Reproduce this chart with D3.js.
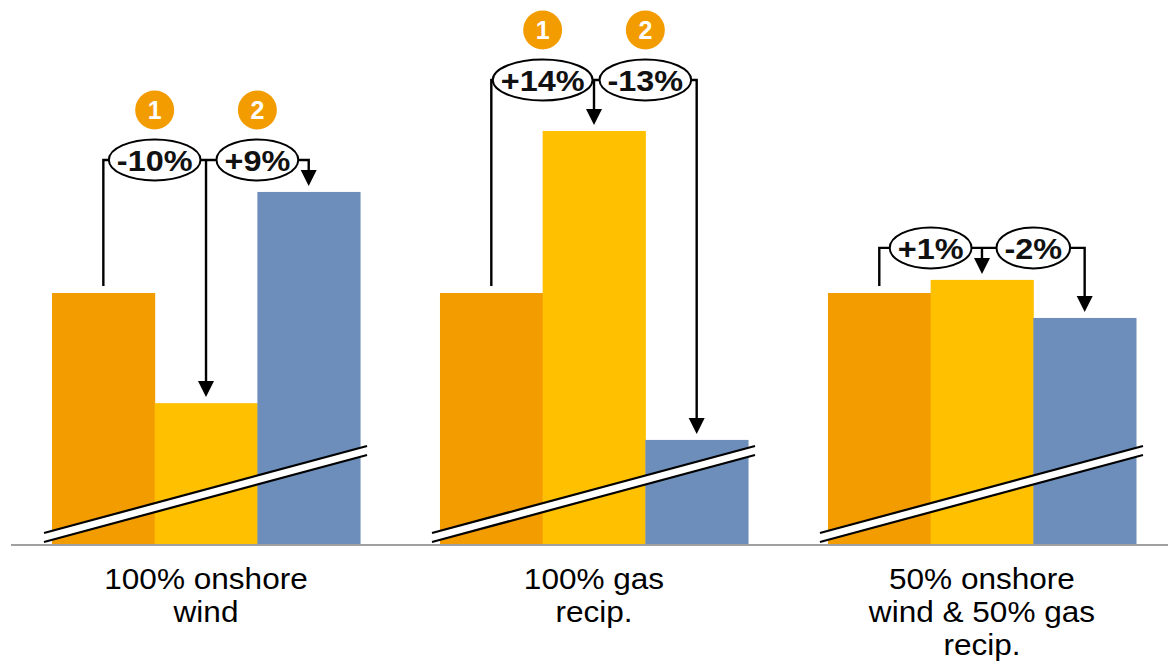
<!DOCTYPE html>
<html>
<head>
<meta charset="utf-8">
<script src="https://cdn.jsdelivr.net/npm/d3@7"></script>
<style>
  html, body { margin: 0; padding: 0; background: #fff; }
  svg { display: block; font-family: "Liberation Sans", Arial, sans-serif; }
</style>
</head>
<body>
<svg id="chart" width="1168" height="661"></svg>
<script>
// Scenarios along the x axis (label lines)
const categories = [
  ["100% onshore", "wind"],
  ["100% gas", "recip."],
  ["50% onshore", "wind & 50% gas", "recip."]
];
const series = ["base", "step1", "step2"];
// Index values (base scenario = 100), axis is broken below the bars
const baseValues  = [100, 100, 100];
const step1Values = [56.3, 164.3, 105.2];
const step2Values = [140.1, 41.7, 90.1];
// Change labels for each step
const step1Labels = ["-10%", "+14%", "+1%"];
const step2Labels = ["+9%", "-13%", "-2%"];
// Whether the step numbers are shown above a group
const showSteps = [true, true, false];

const colors = { base: "#F39C00", step1: "#FFC000", step2: "#6D8EBB" };

const svg = d3.select("#chart");
const W = 1168, baseY = 545;

const x0 = d3.scaleBand().domain(d3.range(categories.length))
  .range([52, 1136]).paddingInner(0.206).paddingOuter(0);
const x1 = d3.scaleBand().domain(series).range([0, x0.bandwidth()]).padding(0);
const y = d3.scaleLinear().domain([0, 100]).range([baseY, 293]);

const rows = categories.map((c, i) => ({
  i, lines: c,
  vals: { base: baseValues[i], step1: step1Values[i], step2: step2Values[i] },
  l1: step1Labels[i], l2: step2Labels[i], steps: showSteps[i]
}));

// bracket height above the tallest bar of the group (px)
const bracketGap = [32, 51, 32];

// widen text horizontally around its anchor x
const stretch = (sel, cx, k) => sel.attr("transform", `translate(${cx},0) scale(${k},1) translate(${-cx},0)`);

const g = svg.append("g");

// bars
rows.forEach(r => {
  g.selectAll(null).data(series).enter().append("rect")
    .attr("x", s => x0(r.i) + x1(s))
    .attr("y", s => y(r.vals[s]))
    .attr("width", x1.bandwidth() + 0.5)
    .attr("height", s => baseY - y(r.vals[s]))
    .attr("fill", s => colors[s]);
});

// axis baseline
svg.append("line").attr("x1", 11).attr("x2", W).attr("y1", baseY).attr("y2", baseY)
  .attr("stroke", "#A0A0A0").attr("stroke-width", 2);

// axis-break marks across each group
rows.forEach(r => {
  const xa = x0(r.i) - 8, xb = x0(r.i) + x0.bandwidth() + 7;
  const ya = 533, yb = 446, off = 9;
  svg.append("path")
    .attr("d", `M${xa},${ya}L${xb},${yb}L${xb},${yb + off}L${xa},${ya + off}Z`)
    .attr("fill", "#fff");
  [0, off].forEach(o => {
    svg.append("line").attr("x1", xa).attr("y1", ya + o).attr("x2", xb).attr("y2", yb + o)
      .attr("stroke", "#000").attr("stroke-width", 2.2);
  });
});

// brackets with change labels
const arrow = (cx, tipY) => `M${cx - 8},${tipY - 16}L${cx + 8},${tipY - 16}L${cx},${tipY}Z`;
rows.forEach(r => {
  const c = s => x0(r.i) + x1(s) + x1.bandwidth() / 2;
  const edge = k => x0(r.i) + x1.bandwidth() * k;
  const top = Math.min(...series.map(s => y(r.vals[s])));
  const by = top - bracketGap[r.i];
  const a = svg.append("g").attr("stroke", "#000").attr("stroke-width", 2.4).attr("fill", "none");
  a.append("path").attr("d",
    `M${c("base")},${y(r.vals.base) - 7}V${by}H${c("step2")}V${y(r.vals.step2) - 21}`);
  a.append("path").attr("d", `M${c("step1")},${by}V${y(r.vals.step1) - 21}`);
  svg.append("path").attr("d", arrow(c("step1"), y(r.vals.step1) - 6)).attr("fill", "#000");
  svg.append("path").attr("d", arrow(c("step2"), y(r.vals.step2) - 6)).attr("fill", "#000");

  [[r.l1, edge(1)], [r.l2, edge(2)]].forEach(([txt, cx]) => {
    const e = svg.append("ellipse").attr("cx", cx).attr("cy", by).attr("ry", 20.5)
      .attr("fill", "#fff").attr("stroke", "#000").attr("stroke-width", 2);
    const t = svg.append("text").attr("x", cx).attr("y", by + 11)
      .attr("text-anchor", "middle").attr("font-size", 30).attr("font-weight", "bold")
      .attr("fill", "#111").text(txt);
    stretch(t, cx, 1.08);
    const w = t.node().getComputedTextLength() * 1.08;
    e.attr("rx", w / 2 + 8);
  });

  if (r.steps) {
    [["1", edge(1)], ["2", edge(2)]].forEach(([n, cx]) => {
      svg.append("circle").attr("cx", cx).attr("cy", by - 50).attr("r", 19.5)
        .attr("fill", colors.base);
      svg.append("text").attr("x", cx).attr("y", by - 50 + 9)
        .attr("text-anchor", "middle").attr("font-size", 25).attr("font-weight", "bold")
        .attr("fill", "#fff").text(n);
    });
  }
});

// category labels
rows.forEach(r => {
  const cx = x0(r.i) + x0.bandwidth() / 2;
  const t = svg.append("text").attr("text-anchor", "middle").attr("font-size", 29.5)
    .attr("fill", "#000");
  r.lines.forEach((ln, k) => {
    t.append("tspan").attr("x", cx).attr("y", 589 + k * 33).text(ln);
  });
  stretch(t, cx, 1.07);
});
</script>
</body>
</html>
